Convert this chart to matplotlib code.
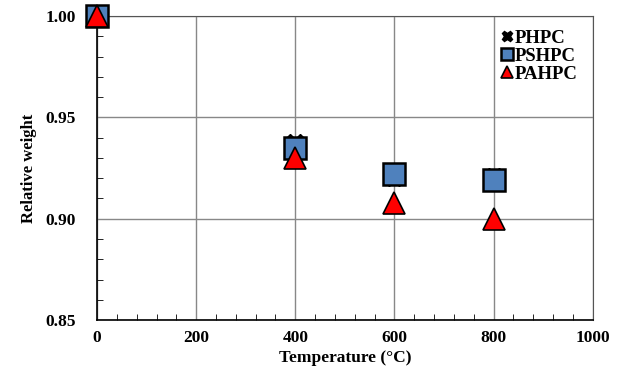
import numpy as np
import matplotlib
matplotlib.use("Agg")
import matplotlib.pyplot as plt
from matplotlib.ticker import MultipleLocator

# dados
temperature = [0, 400, 600, 800]
phpc = [1.000, 0.937, 0.921, 0.920]
pshpc = [1.000, 0.935, 0.922, 0.919]
pahpc = [1.000, 0.930, 0.908, 0.900]

plt.rcParams['font.family'] = ['Liberation Serif', 'DejaVu Serif']
plt.rcParams['font.weight'] = 'bold'

fig = plt.figure(figsize=(6.22, 3.71), dpi=100)
ax = fig.add_axes([0.156, 0.137, 0.797, 0.82])

ax.plot(temperature, phpc, linestyle='none', marker='X', markersize=14,
        color='black', markeredgecolor='black', label='PHPC', zorder=3, clip_on=False)
ax.plot(temperature, pshpc, linestyle='none', marker='s', markersize=16,
        color='#4f81bd', markeredgecolor='black', markeredgewidth=1.8,
        label='PSHPC', zorder=4, clip_on=False)
ax.plot(temperature, pahpc, linestyle='none', marker='^', markersize=16,
        color='#ff0000', markeredgecolor='black', markeredgewidth=1.2,
        label='PAHPC', zorder=5, clip_on=False)

ax.set_xlim(0, 1000)
ax.set_ylim(0.85, 1.00)
ax.set_xticks([0, 200, 400, 600, 800, 1000])
ax.set_yticks([0.85, 0.90, 0.95, 1.00])
ax.set_yticklabels(['0.85', '0.90', '0.95', '1.00'])
ax.xaxis.set_minor_locator(MultipleLocator(40))
ax.yaxis.set_minor_locator(MultipleLocator(0.01))
ax.tick_params(which='both', direction='in', labelsize=12.5)
ax.tick_params(which='major', length=0)
ax.tick_params(axis='x', which='major', pad=7)
ax.tick_params(axis='y', which='major', pad=15)
ax.tick_params(which='minor', length=4)
ax.tick_params(axis='y', which='minor', right=False)
for lab in ax.get_xticklabels() + ax.get_yticklabels():
    lab.set_fontweight('bold')

ax.grid(True, which='major', color='#888888', linewidth=1.0)
ax.set_axisbelow(True)
for side in ['top', 'right']:
    ax.spines[side].set_color('#555555')
for side in ['left', 'bottom']:
    ax.spines[side].set_color('black')
    ax.spines[side].set_linewidth(1.2)

ax.set_xlabel('Temperature (°C)', fontsize=12.5, fontweight='bold', labelpad=3)
ax.set_ylabel('Relative weight', fontsize=12, fontweight='bold', labelpad=6)

ax.legend(loc='upper right', frameon=False, fontsize=13.5, markerscale=0.55,
          handlelength=0.6, handletextpad=0.15, labelspacing=0.05,
          borderaxespad=0, bbox_to_anchor=(0.985, 0.98))

fig.savefig('out.png', dpi=100)
